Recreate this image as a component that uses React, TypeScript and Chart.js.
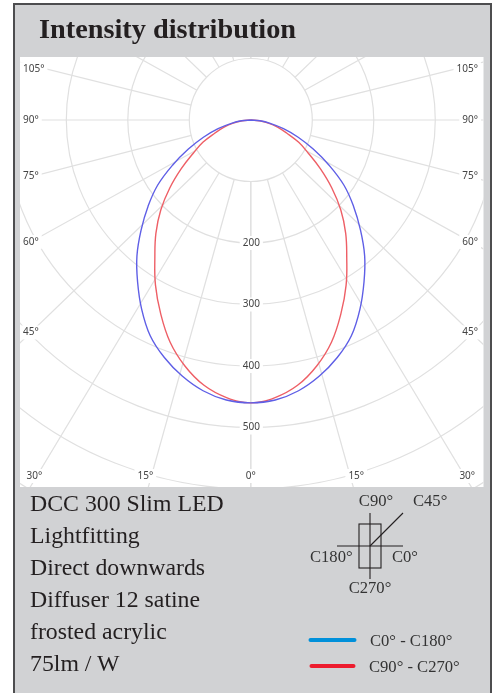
import React, { useEffect, useRef } from "react";
import { Chart, registerables } from "chart.js";

Chart.register(...registerables);

const TITLE = "Intensity distribution";
const DESCRIPTION = ["DCC 300 Slim LED", "Lightfitting", "Direct downwards", "Diffuser 12 satine", "frosted acrylic", "75lm / W"];
const SERIES_C0 = "C0° - C180°";
const SERIES_C90 = "C90° - C270°";

// Polar curve, gamma from nadir (degrees), intensity (cd)
const gammaDeg = [0, 5, 10, 15, 20, 25, 30, 35, 40, 45, 50, 55, 60, 65, 70, 75, 80, 85, 90];
const c0c180 = [460, 457, 447, 431, 411, 387, 355, 321, 288, 252, 218, 185, 147, 112, 82, 55, 32, 15, 0];
const c90c270 = [460, 453, 438, 414, 384, 347, 310, 272, 240, 207, 172, 138, 108, 86, 62, 45, 29, 14, 0];

// Grid
const rings = [100, 200, 300, 400, 500, 600, 700];
const rayAngles = [0, 15.6, 31, 46, 61, 75.5, 90, 104, 119, 134, 149, 164, 180];
const angleTicks = [0, 15, 30, 45, 60, 75, 90, 105];
const angleTickAt = [0, 16.5, 31.3, 46, 61, 75.7, 90, 103];
const radiusTicks = [200, 300, 400, 500];

const rad = (d: number) => (d * Math.PI) / 180;

function curve(values: number[]) {
  const left = gammaDeg.map((g, i) => ({ x: -values[i] * Math.sin(rad(g)), y: -values[i] * Math.cos(rad(g)) })).reverse();
  const right = gammaDeg.slice(1).map((g, i) => ({ x: values[i + 1] * Math.sin(rad(g)), y: -values[i + 1] * Math.cos(rad(g)) }));
  return [...left, ...right];
}

const TICK_FONT = '10px "Noto Sans"';

const polarGrid = {
  id: "polarGrid",
  beforeDatasetsDraw(chart: any) {
    const { ctx, chartArea: a, scales } = chart;
    const sx = scales.x;
    const sy = scales.y;
    const cx = sx.getPixelForValue(0);
    const cy = sy.getPixelForValue(0);
    const k = Math.abs(sx.getPixelForValue(100) - cx) / 100;
    ctx.save();
    ctx.fillStyle = "#ffffff";
    ctx.fillRect(a.left, a.top, a.right - a.left, a.bottom - a.top);
    ctx.beginPath();
    ctx.rect(a.left, a.top, a.right - a.left, a.bottom - a.top);
    ctx.clip();
    ctx.strokeStyle = "#e0e0e0";
    ctx.lineWidth = 1.2;
    rings.forEach((r) => {
      ctx.beginPath();
      ctx.arc(cx, cy, r * k, 0, Math.PI * 2);
      ctx.stroke();
    });
    const r0 = rings[0] * k;
    const r1 = rings[rings.length - 1] * k + 60;
    [1, -1].forEach((side) => {
      rayAngles.forEach((g) => {
        const s = side * Math.sin(rad(g));
        const c = Math.cos(rad(g));
        ctx.beginPath();
        ctx.moveTo(cx + s * r0, cy + c * r0);
        ctx.lineTo(cx + s * r1, cy + c * r1);
        ctx.stroke();
      });
    });
    ctx.font = TICK_FONT;
    ctx.textBaseline = "middle";
    const label = (t: string, x: number, y: number, align: "left" | "right" | "center") => {
      const w = ctx.measureText(t).width + 6;
      const boxX = align === "center" ? x - w / 2 : align === "left" ? x - 3 : x - w + 3;
      ctx.fillStyle = "#ffffff";
      ctx.fillRect(boxX, y - 7, w, 14);
      ctx.fillStyle = "#444444";
      ctx.textAlign = align;
      ctx.fillText(t, x, y);
    };
    radiusTicks.forEach((v) => label(String(v), cx + 0.5, sy.getPixelForValue(-v), "center"));
    const insetX = 220;
    const insetY = a.bottom - cy - 11;
    angleTicks.forEach((t, i) => {
      const g = angleTickAt[i];
      if (i >= 3) {
        const y = g === 90 ? 0 : insetX / Math.tan(rad(g));
        label(`${t}°`, a.left + 3, cy + y, "left");
        label(`${t}°`, a.right - 5.5, cy + y, "right");
      } else {
        const x = Math.tan(rad(g)) * insetY;
        label(`${t}°`, cx - x, cy + insetY, "center");
        if (t !== 0) label(`${t}°`, cx + x, cy + insetY, "center");
      }
    });
    ctx.restore();
  },
};

const abs = (o: React.CSSProperties): React.CSSProperties => ({ position: "absolute", whiteSpace: "nowrap", lineHeight: 1, ...o });
const serif = '"Liberation Serif", serif';
const INK = "#231f20";

function SmallText({ t, x, base, center }: { t: string; x: number; base: number; center?: boolean }) {
  return (
    <div style={abs({ left: x, top: base - 14, fontFamily: serif, fontSize: 16.6, color: "#333", transform: center ? "translateX(-50%)" : undefined })}>{t}</div>
  );
}

export default function App() {
  const ref = useRef<HTMLCanvasElement>(null);
  useEffect(() => {
    const chart = new Chart(ref.current!, {
      type: "scatter",
      data: {
        datasets: [
          { label: SERIES_C0, data: curve(c0c180), showLine: true, borderColor: "#5f5fe6", borderWidth: 1.4, pointRadius: 0, tension: 0.4 },
          { label: SERIES_C90, data: curve(c90c270), showLine: true, borderColor: "#ee5f66", borderWidth: 1.4, pointRadius: 0, tension: 0.4 },
        ],
      },
      options: {
        responsive: false,
        animation: false,
        layout: { padding: { left: 20, right: 13.5, top: 57, bottom: 206 } },
        plugins: { legend: { display: false }, tooltip: { enabled: false }, title: { display: false } },
        scales: {
          x: { type: "linear", display: false, min: -375.3, max: 378.4 },
          y: { type: "linear", display: false, min: -596.7, max: 102.4 },
        },
      },
      plugins: [polarGrid],
    } as any);
    return () => chart.destroy();
  }, []);

  return (
    <div style={{ position: "absolute", left: 0, top: 0, width: 497, height: 693, overflow: "hidden", background: "#fff" }}>
      <div style={{ position: "absolute", left: 13, top: 3, width: 479, height: 720, boxSizing: "border-box", border: "2px solid #4d4d4f", background: "#d1d2d4" }} />
      <canvas ref={ref} width={497} height={693} style={{ position: "absolute", left: 0, top: 0, width: 497, height: 693, filter: "blur(0.3px)" }} />
      <div style={abs({ left: 39, top: 15, fontFamily: serif, fontWeight: 700, fontSize: 28.3, color: INK })}>{TITLE}</div>
      {DESCRIPTION.map((t, i) => (
        <div key={t} style={abs({ left: 30, top: 492 + i * 32, fontFamily: serif, fontSize: 23.8, color: INK })}>{t}</div>
      ))}
      <SmallText t="C90°" x={376} base={507} center />
      <SmallText t="C45°" x={413} base={507} />
      <SmallText t="C180°" x={310} base={563} />
      <SmallText t="C0°" x={392} base={563} />
      <SmallText t="C270°" x={370} base={594} center />
      <SmallText t={SERIES_C0} x={370} base={647} />
      <SmallText t={SERIES_C90} x={369} base={673} />
      <svg width={497} height={693} style={{ position: "absolute", left: 0, top: 0 }}>
        <g stroke="#231f20" strokeWidth={1.1} fill="none">
          <line x1={370} y1={513} x2={370} y2={579} />
          <line x1={337} y1={546} x2={403} y2={546} />
          <rect x={359} y={524} width={22} height={44} />
          <line x1={370} y1={546} x2={403} y2={513} />
        </g>
        <line x1={310.5} y1={640} x2={354.5} y2={640} stroke="#0090da" strokeWidth={4} strokeLinecap="round" />
        <line x1={311.5} y1={666} x2={353.5} y2={666} stroke="#ed1c2e" strokeWidth={4} strokeLinecap="round" />
      </svg>
    </div>
  );
}
